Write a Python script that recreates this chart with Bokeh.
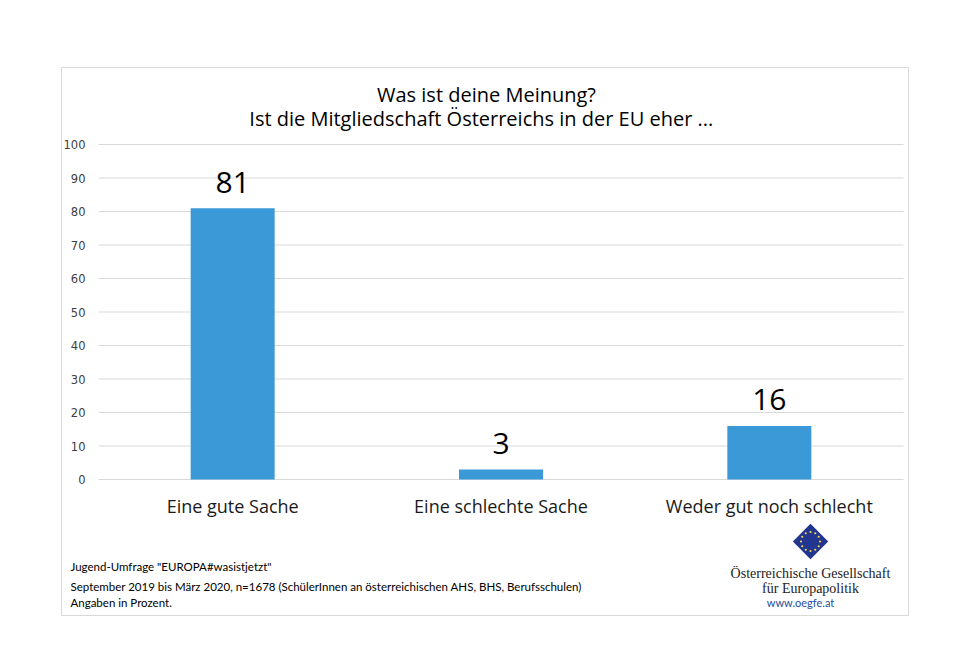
import math
from bokeh.plotting import figure
from bokeh.models import Range1d, LinearAxis, FixedTicker, Label
from bokeh.core.properties import value
from bokeh.embed import file_html
from bokeh.resources import INLINE

# ---- data ----
categories = ["Eine gute Sache", "Eine schlechte Sache", "Weder gut noch schlecht"]
values = [81, 3, 16]
y_ticks = [0, 10, 20, 30, 40, 50, 60, 70, 80, 90, 100]
title_lines = ["Was ist deine Meinung?", "Ist die Mitgliedschaft  Österreichs  in der EU eher ..."]
notes = [
    'Jugend-Umfrage  "EUROPA#wasistjetzt"',
    "September  2019 bis März 2020, n=1678  (SchülerInnen  an österreichischen  AHS, BHS, Berufsschulen)",
    "Angaben  in Prozent.",
]
logo_lines = ["Österreichische Gesellschaft", "für Europapolitik"]
logo_url = "www.oegfe.at"

# ---- geometry ----
W, H = 957, 655
PPX = 805 / 3.0      # pixels per category
PPY = 3.35           # pixels per percent
x_start, x_end = -37 / PPX, 3 + 5 / PPX
y_start, y_end = -136 / PPY, 412 / PPY

p = figure(width=W, height=H, output_backend="svg", toolbar_location=None,
           x_range=Range1d(x_start, x_end), y_range=Range1d(y_start, y_end),
           x_axis_type=None, y_axis_type=None,
           min_border_left=61, min_border_right=49, min_border_top=67, min_border_bottom=40)
p.background_fill_color = "white"
p.border_fill_color = "white"
p.outline_line_color = "#d9d9d9"
p.outline_line_width = 1
p.xgrid.visible = False
p.ygrid.visible = False

xs = [i + 0.5 for i in range(len(categories))]

# gridlines
p.segment(x0=[0] * len(y_ticks), x1=[3] * len(y_ticks), y0=y_ticks, y1=y_ticks,
          line_color="#d9d9d9", line_width=1)

# bars
p.vbar(x=xs, top=values, bottom=0, width=84 / PPX, fill_color="#3A99D6", line_color=None)

# value labels
p.text(x=xs, y=values, text=[str(v) for v in values], text_align="center",
       text_baseline="alphabetic", y_offset=-26, text_font=value("Open Sans"),
       text_font_size="30px", text_color="#000000")

# y axis
yax = LinearAxis(fixed_location=0, ticker=FixedTicker(ticks=y_ticks))
yax.axis_line_color = None
yax.major_tick_line_color = None
yax.minor_tick_line_color = None
yax.major_tick_out = 0
yax.major_tick_in = 0
yax.major_label_standoff = 13
yax.major_label_text_font = "DejaVu Sans"
yax.major_label_text_font_size = "11.5px"
yax.major_label_text_color = "#404040"
p.add_layout(yax, "left")

# x axis
xax = LinearAxis(fixed_location=0, ticker=FixedTicker(ticks=xs),
                 major_label_overrides={x: c for x, c in zip(xs, categories)})
xax.axis_line_color = None
xax.major_tick_line_color = None
xax.minor_tick_line_color = None
xax.major_tick_out = 0
xax.major_tick_in = 0
xax.major_label_standoff = 14
xax.major_label_text_font = "Open Sans"
xax.major_label_text_font_size = "18px"
xax.major_label_text_color = "#1a1a1a"
p.add_layout(xax, "below")

# title
for txt, py in zip(title_lines, [94, 118]):
    p.add_layout(Label(x=(486 - 98) / PPX, y=(479 - py) / PPY, text=txt,
                       text_align="center", text_baseline="middle",
                       text_font="Open Sans", text_font_size="20px", text_color="#000000"))

# footnotes
for txt, py in zip(notes, [566, 586, 602]):
    p.add_layout(Label(x=(70 - 98) / PPX, y=(479 - py) / PPY, text=txt,
                       text_align="left", text_baseline="middle",
                       text_font="Lato", text_font_size="11.5px", text_color="#000000"))

# logo
cx, cy = (810 - 98) / PPX, (479 - 541) / PPY
p.scatter(x=[cx], y=[cy], marker="square", size=25, angle=math.pi / 4,
          fill_color="#22358f", line_color=None)
sx = [cx + 9.5 * math.cos(2 * math.pi * k / 12) / PPX for k in range(12)]
sy = [cy + 9.5 * math.sin(2 * math.pi * k / 12) / PPY for k in range(12)]
p.scatter(x=sx, y=sy, marker="circle", size=2.2, fill_color="#f2d84a", line_color=None)

for txt, py in zip(logo_lines, [573, 588]):
    p.add_layout(Label(x=(810 - 98) / PPX, y=(479 - py) / PPY, text=txt,
                       text_align="center", text_baseline="middle",
                       text_font="Liberation Serif", text_font_size="14px", text_color="#222222"))
p.add_layout(Label(x=(800 - 98) / PPX, y=(479 - 602) / PPY, text=logo_url,
                   text_align="center", text_baseline="middle",
                   text_font="Lato", text_font_size="11px", text_color="#1f4e9c"))

open("out.html", "w").write(file_html(p, INLINE))
